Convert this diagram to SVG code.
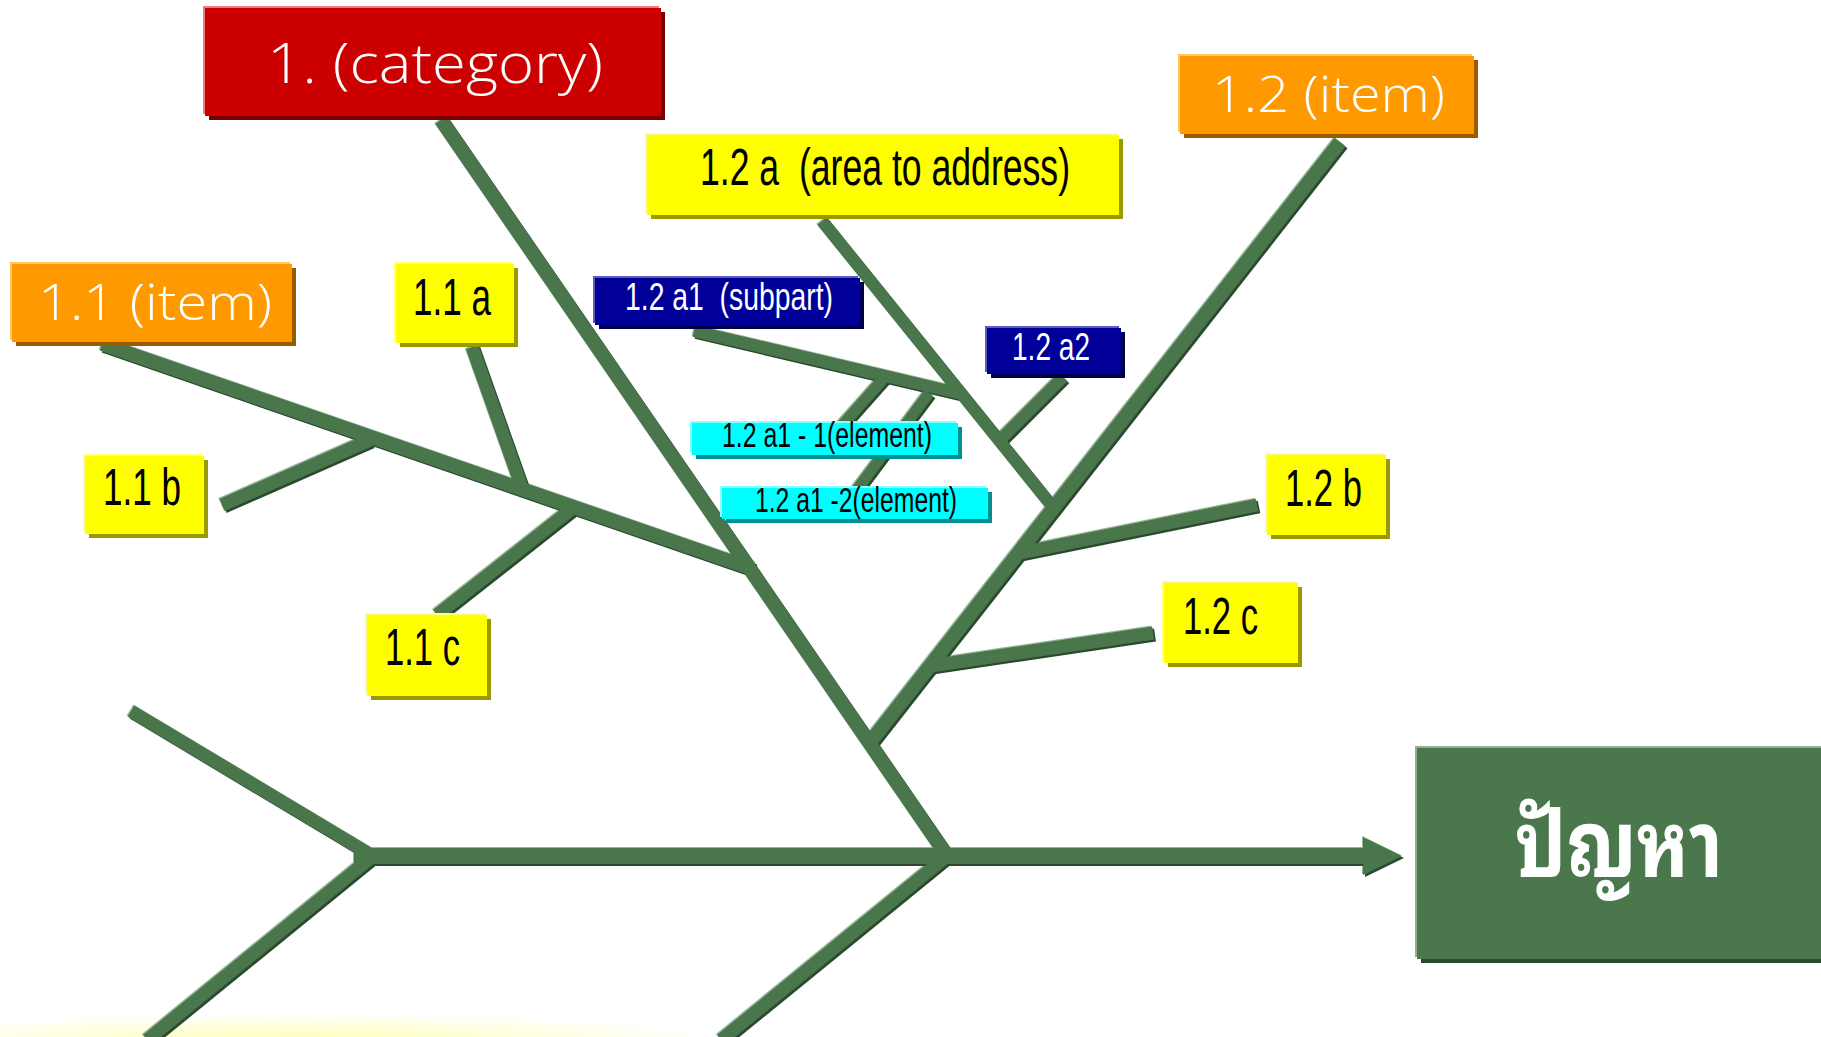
<svg xmlns="http://www.w3.org/2000/svg" width="1821" height="1037" viewBox="0 0 1821 1037">
<defs>
<style>
.bone{fill:none;stroke:#4a774c;stroke-linecap:butt}
.w16{stroke-width:16}.w14{stroke-width:14}.w13{stroke-width:13}.w12{stroke-width:12}.w11{stroke-width:11}
.wide{font-family:"Open Sans","Lato","DejaVu Sans",sans-serif;font-weight:300;fill:#ffffff}
.narrow{font-family:"Liberation Sans Narrow","Liberation Sans",Arial,sans-serif;fill:#000000}
.narrow.white{fill:#ffffff}
.red .m{fill:#cc0000}.red .h{fill:#e88080}.red .s{fill:#7a0000}
.org .m{fill:#ff9900}.org .h{fill:#ffc466}.org .s{fill:#9a5c00}
.yel .m{fill:#ffff00}.yel .h{fill:#ffff88}.yel .s{fill:#999900}
.nav .m{fill:#000099}.nav .h{fill:#5c5cbc}.nav .s{fill:#00004a}
.cya .m{fill:#00ffff}.cya .h{fill:#88ffff}.cya .s{fill:#009090}
.grn .m{fill:#4a774c}.grn .h{fill:#94ab94}.grn .s{fill:#2a4a2c}
</style>
<filter id="bevel" filterUnits="userSpaceOnUse" x="0" y="0" width="1821" height="1037">
<feFlood flood-color="#93b697" result="hc"/>
<feComposite in="hc" in2="SourceAlpha" operator="in" result="h1"/>
<feOffset in="h1" dx="-1.5" dy="-1.5" result="hl"/>
<feFlood flood-color="#2b4a2f" result="dc"/>
<feComposite in="dc" in2="SourceAlpha" operator="in" result="d1"/>
<feOffset in="d1" dx="1.8" dy="1.8" result="sh"/>
<feMerge><feMergeNode in="hl"/><feMergeNode in="sh"/><feMergeNode in="SourceGraphic"/></feMerge>
</filter>
<radialGradient id="glow" cx="0.5" cy="0.5" r="0.5">
<stop offset="0" stop-color="#ffff80" stop-opacity="0.6"/>
<stop offset="1" stop-color="#ffff80" stop-opacity="0"/>
</radialGradient>
</defs>
<rect width="1821" height="1037" fill="#ffffff"/>
<ellipse cx="300" cy="1040" rx="420" ry="26" fill="url(#glow)"/>

<g id="connectors" filter="url(#bevel)">
<line class="bone w16" x1="354" y1="856" x2="1366" y2="856"/>
<polygon fill="#4a774c" points="1363,837 1402,856 1363,875"/>
<line class="bone w13" x1="131" y1="711" x2="373" y2="856"/>
<line class="bone w13" x1="373" y1="856" x2="147" y2="1040"/>
<line class="bone w13" x1="947" y1="856" x2="721" y2="1040"/>
<line class="bone w14" x1="441" y1="120" x2="947" y2="856"/>
<line class="bone w14" x1="102" y1="344" x2="753" y2="569"/>
<line class="bone w13" x1="472" y1="347" x2="522" y2="488"/>
<line class="bone w13" x1="222" y1="505" x2="370" y2="440"/>
<line class="bone w13" x1="437" y1="615" x2="573" y2="508"/>
<line class="bone w14" x1="1340" y1="142" x2="868" y2="745"/>
<line class="bone w12" x1="822" y1="221" x2="1051" y2="505"/>
<line class="bone w12" x1="1063" y1="377" x2="1001" y2="439"/>
<line class="bone w13" x1="1257" y1="505" x2="1020" y2="553"/>
<line class="bone w13" x1="1153" y1="633" x2="930" y2="666"/>
<line class="bone w12" x1="694" y1="331" x2="962" y2="394"/>
<line class="bone w11" x1="884" y1="378" x2="836" y2="432"/>
<line class="bone w11" x1="929" y1="393" x2="855" y2="492"/>
</g>

<g id="n-category" class="red">
<rect class="h" x="203" y="6" width="456" height="108"/>
<rect class="s" x="209" y="12" width="456" height="108"/>
<rect class="m" x="205" y="8" width="456" height="108"/>
<text class="wide" x="267" y="83" font-size="56" textLength="336" lengthAdjust="spacingAndGlyphs">1. (category)</text>
</g>

<g id="n-1-1" class="org">
<rect class="h" x="10" y="262" width="280" height="78"/>
<rect class="s" x="16" y="268" width="280" height="78"/>
<rect class="m" x="12" y="264" width="280" height="78"/>
<text class="wide" x="38" y="320" font-size="49" textLength="234" lengthAdjust="spacingAndGlyphs">1.1 (item)</text>
</g>

<g id="n-1-2" class="org">
<rect class="h" x="1178" y="54" width="294" height="78"/>
<rect class="s" x="1184" y="60" width="294" height="78"/>
<rect class="m" x="1180" y="56" width="294" height="78"/>
<text class="wide" x="1212" y="112" font-size="49" textLength="233" lengthAdjust="spacingAndGlyphs">1.2 (item)</text>
</g>

<g id="n-1-1a" class="yel">
<rect class="h" x="394" y="262" width="118" height="79"/>
<rect class="s" x="400" y="268" width="118" height="79"/>
<rect class="m" x="396" y="264" width="118" height="79"/>
<text class="narrow" x="413" y="315" font-size="51" textLength="78" lengthAdjust="spacingAndGlyphs">1.1 a</text>
</g>

<g id="n-1-1b" class="yel">
<rect class="h" x="83" y="454" width="119" height="78"/>
<rect class="s" x="89" y="460" width="119" height="78"/>
<rect class="m" x="85" y="456" width="119" height="78"/>
<text class="narrow" x="103" y="505" font-size="51" textLength="78" lengthAdjust="spacingAndGlyphs">1.1 b</text>
</g>

<g id="n-1-1c" class="yel">
<rect class="h" x="365" y="613" width="120" height="81"/>
<rect class="s" x="371" y="619" width="120" height="81"/>
<rect class="m" x="367" y="615" width="120" height="81"/>
<text class="narrow" x="385" y="665" font-size="51" textLength="75" lengthAdjust="spacingAndGlyphs">1.1 c</text>
</g>

<g id="n-1-2a" class="yel">
<rect class="h" x="645" y="133" width="472" height="80"/>
<rect class="s" x="651" y="139" width="472" height="80"/>
<rect class="m" x="647" y="135" width="472" height="80"/>
<text class="narrow" x="700" y="185" font-size="51" textLength="370" lengthAdjust="spacingAndGlyphs" xml:space="preserve">1.2 a  (area to address)</text>
</g>

<g id="n-1-2b" class="yel">
<rect class="h" x="1265" y="453" width="119" height="80"/>
<rect class="s" x="1271" y="459" width="119" height="80"/>
<rect class="m" x="1267" y="455" width="119" height="80"/>
<text class="narrow" x="1285" y="506" font-size="51" textLength="77" lengthAdjust="spacingAndGlyphs">1.2 b</text>
</g>

<g id="n-1-2c" class="yel">
<rect class="h" x="1162" y="581" width="134" height="80"/>
<rect class="s" x="1168" y="587" width="134" height="80"/>
<rect class="m" x="1164" y="583" width="134" height="80"/>
<text class="narrow" x="1183" y="634" font-size="51" textLength="75" lengthAdjust="spacingAndGlyphs">1.2 c</text>
</g>

<g id="n-1-2a1" class="nav">
<rect class="h" x="593" y="276" width="265" height="47"/>
<rect class="s" x="599" y="282" width="265" height="47"/>
<rect class="m" x="595" y="278" width="265" height="47"/>
<text class="narrow white" x="625" y="310" font-size="38" textLength="208" lengthAdjust="spacingAndGlyphs" xml:space="preserve">1.2 a1  (subpart)</text>
</g>

<g id="n-1-2a2" class="nav">
<rect class="h" x="985" y="326" width="134" height="46"/>
<rect class="s" x="991" y="332" width="134" height="46"/>
<rect class="m" x="987" y="328" width="134" height="46"/>
<text class="narrow white" x="1012" y="360" font-size="38" textLength="78" lengthAdjust="spacingAndGlyphs">1.2 a2</text>
</g>

<g id="n-1-2a1-1" class="cya">
<rect class="h" x="690" y="421" width="266" height="32"/>
<rect class="s" x="696" y="427" width="266" height="32"/>
<rect class="m" x="692" y="423" width="266" height="32"/>
<text class="narrow" x="722" y="447" font-size="35" textLength="210" lengthAdjust="spacingAndGlyphs">1.2 a1 - 1(element)</text>
</g>

<g id="n-1-2a1-2" class="cya">
<rect class="h" x="720" y="486" width="266" height="31"/>
<rect class="s" x="726" y="492" width="266" height="31"/>
<rect class="m" x="722" y="488" width="266" height="31"/>
<text class="narrow" x="755" y="512" font-size="35" textLength="202" lengthAdjust="spacingAndGlyphs">1.2 a1 -2(element)</text>
</g>

<g id="n-problem" class="grn">
<rect class="h" x="1415" y="746" width="410" height="211"/>
<rect class="s" x="1421" y="752" width="410" height="211"/>
<rect class="m" x="1417" y="748" width="410" height="211"/>
<text x="1515" y="877" font-family="'Noto Sans Thai Looped','Noto Serif Thai','Garuda','Loma','Tlwg Typist','Noto Sans Thai','Noto Sans','DejaVu Sans',sans-serif" font-weight="bold" font-size="92" fill="#ffffff" textLength="208" lengthAdjust="spacingAndGlyphs">ปัญหา</text>
</g>
</svg>
